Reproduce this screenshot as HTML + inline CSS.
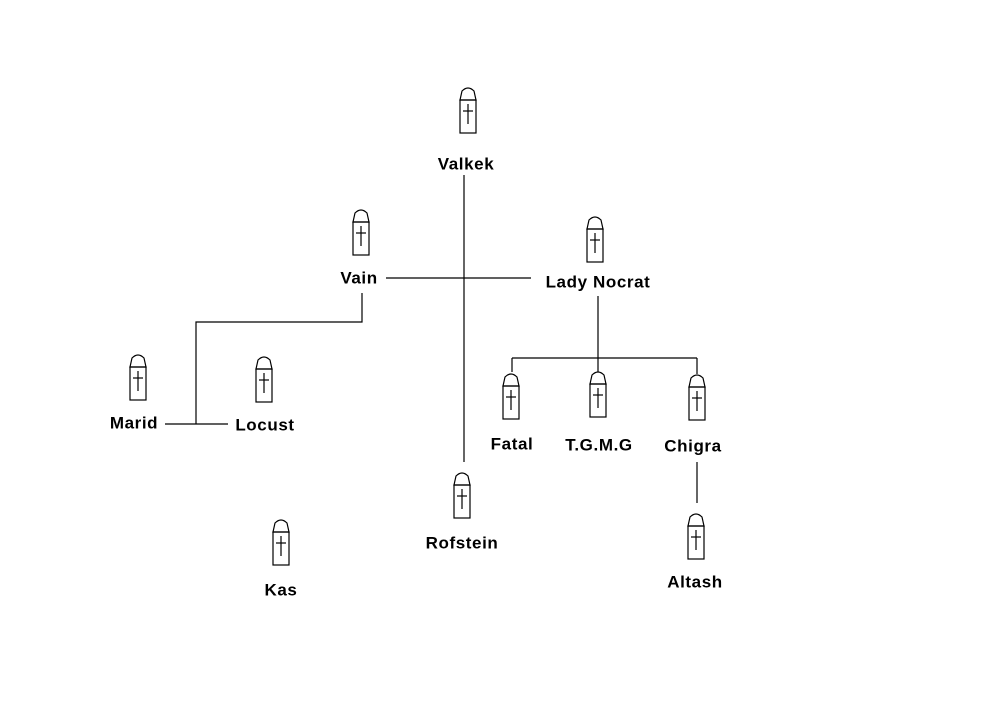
<!DOCTYPE html>
<html><head><meta charset="utf-8"><style>
html,body{margin:0;padding:0;background:#fff;}
svg{display:block;}
text{font-family:"Liberation Sans",Arial,sans-serif;font-weight:bold;font-size:17px;letter-spacing:0.6px;fill:#000;text-anchor:middle;dominant-baseline:central;}
</style></head><body>
<svg width="991" height="703" viewBox="0 0 991 703" xmlns="http://www.w3.org/2000/svg">
<defs>
<g id="ic" fill="none" stroke="#000" stroke-width="1.2">
<path d="M-8,12 L-6,3 Q0,-3 6,3 L8,12 Z"/>
<rect x="-8" y="12" width="16" height="33"/>
<line x1="0" y1="16" x2="0" y2="36"/>
<line x1="-5" y1="23" x2="5" y2="23"/>
</g>
</defs>
<g stroke="#000" stroke-width="1.2" fill="none">
<line x1="464" y1="175" x2="464" y2="462"/>
<line x1="386" y1="278" x2="531" y2="278"/>
<polyline points="362,293 362,322 196,322 196,424"/>
<line x1="165" y1="424" x2="228" y2="424"/>
<line x1="598" y1="296" x2="598" y2="358"/>
<line x1="512" y1="358" x2="697" y2="358"/>
<line x1="512" y1="358" x2="512" y2="372"/>
<line x1="598" y1="358" x2="598" y2="372"/>
<line x1="697" y1="358" x2="697" y2="374"/>
<line x1="697" y1="462" x2="697" y2="503"/>
</g>
<use href="#ic" x="468" y="88"/>
<use href="#ic" x="361" y="210"/>
<use href="#ic" x="595" y="217"/>
<use href="#ic" x="138" y="355"/>
<use href="#ic" x="264" y="357"/>
<use href="#ic" x="511" y="374"/>
<use href="#ic" x="598" y="372"/>
<use href="#ic" x="697" y="375"/>
<use href="#ic" x="462" y="473"/>
<use href="#ic" x="281" y="520"/>
<use href="#ic" x="696" y="514"/>
<text x="466" y="164">Valkek</text>
<text x="359" y="278">Vain</text>
<text x="598" y="282">Lady Nocrat</text>
<text x="134" y="423">Marid</text>
<text x="265" y="425">Locust</text>
<text x="512" y="444">Fatal</text>
<text x="599" y="445">T.G.M.G</text>
<text x="693" y="446">Chigra</text>
<text x="462" y="543">Rofstein</text>
<text x="281" y="590">Kas</text>
<text x="695" y="582">Altash</text>
</svg>
</body></html>
